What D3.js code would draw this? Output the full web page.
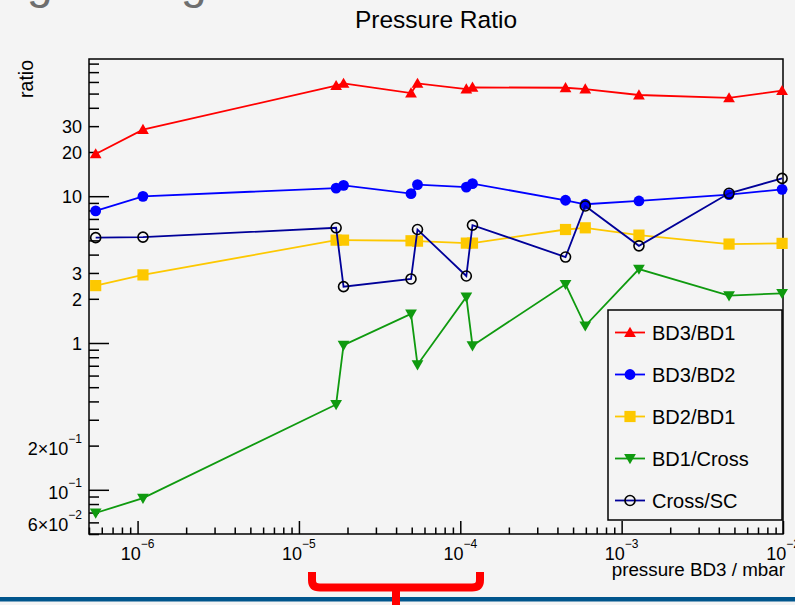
<!DOCTYPE html>
<html>
<head>
<meta charset="utf-8">
<script src="https://cdn.jsdelivr.net/npm/d3@7"></script>
<style>
  html, body { margin: 0; padding: 0; background: #f4f4f4; }
  svg { display: block; font-family: "Liberation Sans", Arial, sans-serif; }
</style>
</head>
<body>
<svg width="795" height="605"></svg>
<script>
// pressure BD3 / mbar, one value per measurement
const pressure = [5.5e-7, 1.08e-6, 1.70e-5, 1.89e-5, 4.95e-5, 5.43e-5, 1.09e-4, 1.19e-4, 4.49e-4, 5.95e-4, 1.28e-3, 4.63e-3, 9.87e-3];

const bd3bd1   = [19.4, 28.4, 56.6, 58.6, 50.4, 58.6, 53.7, 55.1, 54.8, 53.7, 48.9, 46.7, 52.3];
const bd3bd2   = [7.94, 9.98, 11.36, 11.86, 10.41, 11.99, 11.54, 12.17, 9.38, 8.81, 9.28, 10.25, 11.14];
const bd2bd1   = [2.46, 2.91, 5.02, 5.02, 4.97, 4.94, 4.79, 4.79, 5.93, 6.09, 5.43, 4.72, 4.77];
const bd1cross = [0.0695, 0.0878, 0.3815, 0.966, 1.58, 0.712, 2.06, 0.959, 2.51, 1.31, 3.19, 2.10, 2.18];
const crossSC  = [5.22, 5.26, 6.09, 2.42, 2.73, 5.93, 2.86, 6.35, 3.85, 8.58, 4.59, 10.46, 13.22];

const seriesNames = ["BD3/BD1", "BD3/BD2", "BD2/BD1", "BD1/Cross", "Cross/SC"];

// tick labels: [value, mantissa text, exponent text]
const yTickLabels = [
  [0.06, "6\u00d710", "\u22122"],
  [0.1, "10", "\u22121"],
  [0.2, "2\u00d710", "\u22121"],
  [1, "1", ""],
  [2, "2", ""],
  [3, "3", ""],
  [10, "10", ""],
  [20, "20", ""],
  [30, "30", ""]
];
const xTickLabels = [
  [1e-6, "10", "\u22126"],
  [1e-5, "10", "\u22125"],
  [1e-4, "10", "\u22124"],
  [1e-3, "10", "\u22123"],
  [1e-2, "10", "\u22122"]
];

const styles = [
  { color: "#ff0000", marker: "triUp",   fill: "#ff0000" },
  { color: "#0000ff", marker: "circle",  fill: "#0000ff" },
  { color: "#fdc800", marker: "square",  fill: "#fdc800" },
  { color: "#0f9a0f", marker: "triDown", fill: "#0f9a0f" },
  { color: "#000099", marker: "open",    fill: "none" }
];

const svg = d3.select("svg");
const frameL = 89, frameR = 783, frameT = 59, frameB = 534;

const x = d3.scaleLog().domain([5e-7, 1e-2]).range([frameL, frameR]);
const y = d3.scaleLog().domain([0.05, 86]).range([frameB, frameT]);

svg.append("rect").attr("width", 795).attr("height", 605).attr("fill", "#f4f4f4");

// bits of the slide around the picture
svg.append("text").attr("x", 27).attr("y", -2).attr("font-size", 46).attr("fill", "#6e6e6e").text("g");
svg.append("text").attr("x", 181).attr("y", -2).attr("font-size", 46).attr("fill", "#6e6e6e").text("g");
svg.append("rect").attr("x", 0).attr("y", 597).attr("width", 795).attr("height", 4.5).attr("fill", "#00558c");
svg.append("path")
  .attr("d", "M312,572V580Q312,587.5 320,587.5H472Q480,587.5 480,580V572M396,587.5V605")
  .attr("fill", "none").attr("stroke", "#ff0000").attr("stroke-width", 8);

// title
svg.append("text").attr("x", (frameL + frameR) / 2).attr("y", 28)
  .attr("text-anchor", "middle").attr("font-size", 24.5).text("Pressure Ratio");

// tick values
function logTicks(scale) {
  const [d0, d1] = scale.domain();
  const major = [], minor = [];
  for (let e = Math.floor(Math.log10(d0)); e <= Math.ceil(Math.log10(d1)); e++) {
    for (let k = 1; k <= 9; k++) {
      const v = k * Math.pow(10, e);
      if (v < d0 * 0.999 || v > d1 * 1.001) continue;
      (k === 1 ? major : minor).push(v);
    }
  }
  return { major, minor };
}
const xt = logTicks(x), yt = logTicks(y);

function axisStyle(g) {
  g.select(".domain").remove();
  g.selectAll(".tick line").attr("stroke", "#000").attr("stroke-width", 1.5);
  g.selectAll(".tick text").remove();
}

svg.append("g").attr("transform", `translate(0,${frameB})`)
  .call(d3.axisBottom(x).tickValues(xt.minor).tickSize(-6.5).tickSizeOuter(0)).call(axisStyle);
svg.append("g").attr("transform", `translate(0,${frameB})`)
  .call(d3.axisBottom(x).tickValues(xt.major).tickSize(-13).tickSizeOuter(0)).call(axisStyle);
svg.append("g").attr("transform", `translate(${frameL},0)`)
  .call(d3.axisLeft(y).tickValues(yt.minor).tickSize(-10).tickSizeOuter(0)).call(axisStyle);
svg.append("g").attr("transform", `translate(${frameL},0)`)
  .call(d3.axisLeft(y).tickValues(yt.major).tickSize(-20).tickSizeOuter(0)).call(axisStyle);

// frame
svg.append("rect").attr("x", frameL).attr("y", frameT).attr("width", frameR - frameL).attr("height", frameB - frameT)
  .attr("fill", "none").attr("stroke", "#000").attr("stroke-width", 1.5);

// tick labels
const xl = svg.append("g").attr("font-size", 18);
xTickLabels.forEach(([v, m, e]) => {
  const t = xl.append("text").attr("x", x(v)).attr("y", 560).attr("text-anchor", "middle");
  t.append("tspan").text(m);
  t.append("tspan").attr("font-size", 12).attr("dy", -12).text(e);
});
const yl = svg.append("g").attr("font-size", 18);
yTickLabels.forEach(([v, m, e]) => {
  const t = yl.append("text").attr("x", 82).attr("y", y(v) + (e ? 9 : 7)).attr("text-anchor", "end");
  t.append("tspan").text(m);
  if (e) t.append("tspan").attr("font-size", 12).attr("dy", -12).text(e);
});

// axis titles
svg.append("text").attr("x", 785).attr("y", 576).attr("text-anchor", "end")
  .attr("font-size", 18.8).text("pressure BD3 / mbar");
svg.append("text").attr("transform", "translate(32.5,60) rotate(-90)")
  .attr("text-anchor", "end").attr("font-size", 19.5).text("ratio");

// markers
function drawMarker(g, kind, st) {
  if (kind === "triUp") {
    g.append("path").attr("d", d3.symbol(d3.symbolTriangle, 60)()).attr("transform", "translate(0,1)").attr("fill", st.fill);
  } else if (kind === "triDown") {
    g.append("path").attr("d", d3.symbol(d3.symbolTriangle, 60)()).attr("transform", "translate(0,-1) rotate(180)").attr("fill", st.fill);
  } else if (kind === "circle") {
    g.append("circle").attr("r", 5.4).attr("fill", st.fill);
  } else if (kind === "square") {
    g.append("rect").attr("x", -5.6).attr("y", -5.6).attr("width", 11.2).attr("height", 11.2).attr("fill", st.fill);
  } else {
    g.append("circle").attr("r", 5).attr("fill", "none").attr("stroke", "#000").attr("stroke-width", 1.6);
  }
}

const allSeries = [bd3bd1, bd3bd2, bd2bd1, bd1cross, crossSC];
const line = d3.line().x(d => x(d[0])).y(d => y(d[1]));

const plot = svg.append("g");
allSeries.forEach((vals, i) => {
  const pts = pressure.map((p, j) => [p, vals[j]]);
  const st = styles[i];
  plot.append("path").datum(pts).attr("d", line)
    .attr("fill", "none").attr("stroke", st.color).attr("stroke-width", 1.8);
  plot.selectAll(null).data(pts).enter().append("g")
    .attr("transform", d => `translate(${x(d[0])},${y(d[1])})`)
    .each(function () { drawMarker(d3.select(this), st.marker, st); });
});

// legend
const lg = svg.append("g");
lg.append("rect").attr("x", 608).attr("y", 310).attr("width", 174).attr("height", 210)
  .attr("fill", "#f4f4f4").attr("stroke", "#000").attr("stroke-width", 1.5);
seriesNames.forEach((name, i) => {
  const st = styles[i];
  const cy = 332.5 + i * 42;
  const e = lg.append("g").attr("transform", `translate(0,${cy})`);
  e.append("line").attr("x1", 615).attr("x2", 645).attr("stroke", st.color).attr("stroke-width", 1.8);
  const m = e.append("g").attr("transform", "translate(630,0)");
  drawMarker(m, st.marker, st);
  e.append("text").attr("x", 652).attr("y", 7).attr("font-size", 20).text(name);
});
</script>
</body>
</html>
